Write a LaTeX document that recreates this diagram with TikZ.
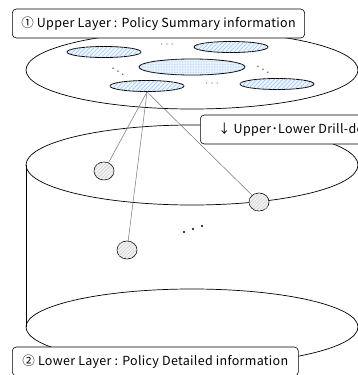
\documentclass[tikz,border=0pt]{standalone}
\usepackage{fontspec}
\setmainfont{Noto Sans CJK KR}[LetterSpace=2.5]
\usepackage{tikz}
\usetikzlibrary{positioning}
\usetikzlibrary{shapes.geometric}
\usetikzlibrary{patterns.meta}
\definecolor{hatchblue}{rgb}{0.58,0.75,0.93}
\definecolor{paleblue}{rgb}{0.93,0.96,1.00}
\definecolor{linegray}{rgb}{0.45,0.45,0.45}

\begin{document}
\begin{tikzpicture}[x=1pt, y=-1pt, 
    every node/.style = {font=\fontsize{12.5}{14}\selectfont},
    layerbox/.style = {draw, rounded corners=4pt, fill=white, minimum height=29pt, inner xsep=9pt, anchor=west, line width=0.6pt},
    leaf/.style = {draw, ellipse, minimum width=74pt, minimum height=11pt, inner sep=0pt, line width=0.8pt,
        fill=paleblue, postaction={pattern={Lines[angle=45, distance=3pt, line width=0.5pt]}, pattern color=hatchblue}},
    core/.style = {draw, ellipse, minimum width=106pt, minimum height=16pt, inner sep=0pt, line width=0.8pt,
        fill=paleblue, postaction={pattern={Dots[distance=1.6pt, radius=0.35pt]}, pattern color=hatchblue}},
    rec/.style = {draw, ellipse, minimum width=20pt, minimum height=18pt, inner sep=0pt, line width=0.6pt,
        fill=gray!10, postaction={pattern={Lines[angle=45, distance=2.5pt, line width=0.4pt]}, pattern color=gray!45}},
    link/.style = {draw=linegray, line width=0.5pt}
    ]
    \useasboundingbox (0,0) rectangle (358,375);
    \clip (0,0) rectangle (358,375);

    % upper layer
    \draw[line width=0.7pt] (192,70) ellipse (166pt and 39pt);
    \node[leaf] (e1) at (104,52) {};
    \node[leaf] (e2) at (231,47) {};
    \node[core] (e3) at (192,67) {};
    \node[leaf] (e4) at (147,86) {};
    \node[leaf] (e5) at (277,84) {};
    \node[text=linegray] (d1) at (167,45) {$\cdots$};
    \node[text=linegray] (d2) at (212,84) {$\cdots$};
    \node[text=linegray] (d3) at (118,69) {$\ddots$};
    \node[text=linegray] (d4) at (263,67) {$\ddots$};

    % lower layer
    \draw[line width=0.7pt] (192,327) ellipse (166pt and 38pt);
    \draw[line width=0.7pt] (26,165) -- (26,327);
    \draw[line width=0.7pt] (192,165) ellipse (166pt and 40pt);
    \foreach \x/\y in {184/232, 193/229, 202/226}
        \fill (\x,\y) circle (1.1pt);

    \node[rec] (c1) at (104,171) {};
    \node[rec] (c2) at (259,202) {};
    \node[rec] (c3) at (127,250) {};
    \draw[link] (e4.south) -- (c1);
    \draw[link] (e4.south) -- (c2);
    \draw[link] (e4.south) -- (c3);

    \node[layerbox, minimum width=289pt] (up) at (12,23.5) {① Upper Layer : Policy Summary information};
    \node[layerbox, minimum width=200pt] (drill) at (200,129.5) {↓ Upper･Lower Drill-down};
    \node[layerbox, minimum width=286pt] (low) at (12,361.5) {② Lower Layer : Policy Detailed information};
\end{tikzpicture}
\end{document}
